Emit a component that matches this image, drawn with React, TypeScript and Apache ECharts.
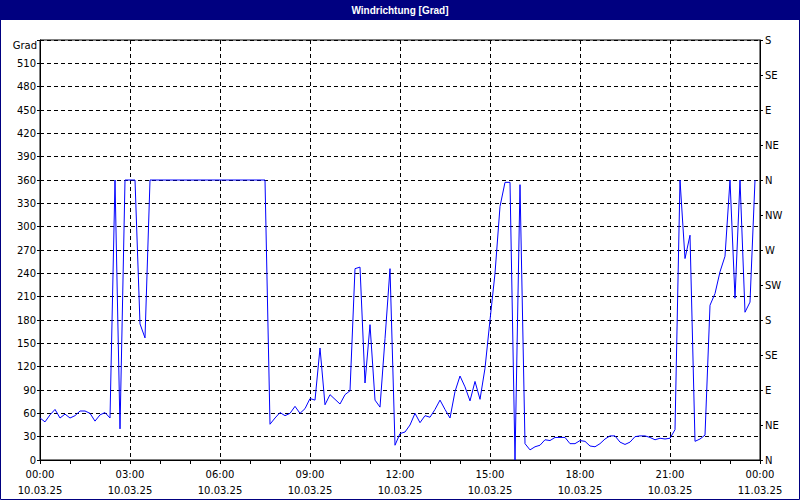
import React, { useEffect, useRef } from "react";
import * as echarts from "echarts";

// 10-minute samples starting 10.03.25 00:00
const stepMinutes = 10;
const windDirection = [
  54, 49, 58, 65, 54, 59, 54, 57, 63, 63, 60, 50, 58, 61, 54, 360, 40, 360, 360, 360,
  175, 157, 360, 360, 360, 360, 360, 360, 360, 360, 360, 360, 360, 360, 360, 360, 360, 360, 360, 360,
  360, 360, 360, 360, 360, 360, 46, 54, 61, 57, 60, 69, 60, 66, 79, 77, 144, 71, 84, 78,
  72, 84, 89, 246, 248, 99, 174, 77, 68, 156, 246, 19, 34, 36, 45, 60, 48, 57, 55, 65,
  77, 65, 54, 88, 108, 94, 76, 101, 78, 118, 180, 240, 326, 357, 357, 0, 354, 21, 13, 17,
  19, 26, 25, 29, 29, 29, 21, 21, 25, 24, 18, 17, 21, 27, 31, 31, 23, 20, 23, 30,
  31, 31, 29, 26, 28, 27, 28, 39, 360, 259, 289, 24, 27, 32, 199, 214, 242, 262, 360, 208,
  360, 190, 203, 360,
];

const xTickLabels = [
  "00:00\n10.03.25",
  "03:00\n10.03.25",
  "06:00\n10.03.25",
  "09:00\n10.03.25",
  "12:00\n10.03.25",
  "15:00\n10.03.25",
  "18:00\n10.03.25",
  "21:00\n10.03.25",
  "00:00\n11.03.25",
];

const directionLabels = ["N", "NE", "E", "SE", "S", "SW", "W", "NW", "N", "NE", "E", "SE", "S"];

const title = "Windrichtung [Grad]";
const unitLabel = "Grad";

const FONT = "DejaVu Sans";

export default function App() {
  const ref = useRef<HTMLDivElement>(null);

  useEffect(() => {
    if (!ref.current) return;
    const chart = echarts.init(ref.current, undefined, { renderer: "svg" });
    const data = windDirection.map((v, i) => [(i * stepMinutes) / 60, v]);
    const axisLineStyle = { color: "#000", width: 1 };
    const dashed = { color: "#000", width: 1, type: [4, 3] as any };
    chart.setOption({
      animation: false,
      backgroundColor: "#ffffff",
      grid: {
        left: 40,
        right: 40,
        top: 40,
        bottom: 40,
        show: true,
        borderColor: "#000",
        borderWidth: 1,
        backgroundColor: "transparent",
      },
      xAxis: {
        type: "value",
        min: 0,
        max: 24,
        interval: 3,
        axisLine: { show: true, onZero: false, lineStyle: axisLineStyle },
        axisTick: { show: true, length: 4, lineStyle: axisLineStyle },
        minorTick: { show: true, splitNumber: 3, length: 4, lineStyle: axisLineStyle },
        splitLine: { show: true, lineStyle: dashed },
        axisLabel: {
          color: "#000",
          fontFamily: FONT,
          fontSize: 10,
          lineHeight: 16,
          margin: 6,
          showMinLabel: true,
          showMaxLabel: true,
          formatter: (v: number) => xTickLabels[Math.round(v / 3)] ?? "",
        },
      },
      yAxis: [
        {
          type: "value",
          min: 0,
          max: 540,
          interval: 30,
          position: "left",
          axisLine: { show: true, lineStyle: axisLineStyle },
          axisTick: { show: true, length: 3, lineStyle: axisLineStyle },
          splitLine: { show: true, lineStyle: dashed },
          axisLabel: {
            color: "#000",
            fontFamily: FONT,
            fontSize: 10,
            margin: 4,
            formatter: (v: number) => (v >= 540 ? "" : String(v)),
          },
        },
        {
          type: "value",
          min: 0,
          max: 540,
          interval: 45,
          position: "right",
          axisLine: { show: true, lineStyle: axisLineStyle },
          axisTick: { show: true, length: 3, lineStyle: axisLineStyle },
          splitLine: { show: false },
          axisLabel: {
            color: "#000",
            fontFamily: FONT,
            fontSize: 10,
            margin: 5,
            formatter: (v: number) => directionLabels[Math.round(v / 45)] ?? "",
          },
        },
      ],
      series: [
        {
          type: "line",
          data,
          yAxisIndex: 0,
          showSymbol: false,
          symbol: "none",
          lineStyle: { color: "#0000ff", width: 1 },
          itemStyle: { color: "#0000ff" },
          z: 5,
        },
      ],
      graphic: [
        {
          type: "rect",
          shape: { x: 0, y: 0, width: 800, height: 20 },
          style: { fill: "#000080" },
          z: 10,
        },
        {
          type: "text",
          x: 400,
          y: 10,
          style: {
            text: title,
            fill: "#ffffff",
            font: `bold 10px "Liberation Sans"`,
            textAlign: "center",
            textVerticalAlign: "middle",
          },
          z: 11,
        },
        {
          type: "rect",
          shape: { x: 0.5, y: 0.5, width: 799, height: 499 },
          style: { fill: "none", stroke: "#000080", lineWidth: 1 },
          z: 10,
        },
        {
          type: "text",
          x: 37,
          y: 45,
          style: {
            text: unitLabel,
            fill: "#000",
            font: `10px "${FONT}"`,
            textAlign: "right",
            textVerticalAlign: "middle",
          },
          z: 11,
        },
      ],
    });
    return () => chart.dispose();
  }, []);

  return (
    <div
      ref={ref}
      style={{ position: "fixed", left: 0, top: 0, width: 800, height: 500 }}
    />
  );
}
